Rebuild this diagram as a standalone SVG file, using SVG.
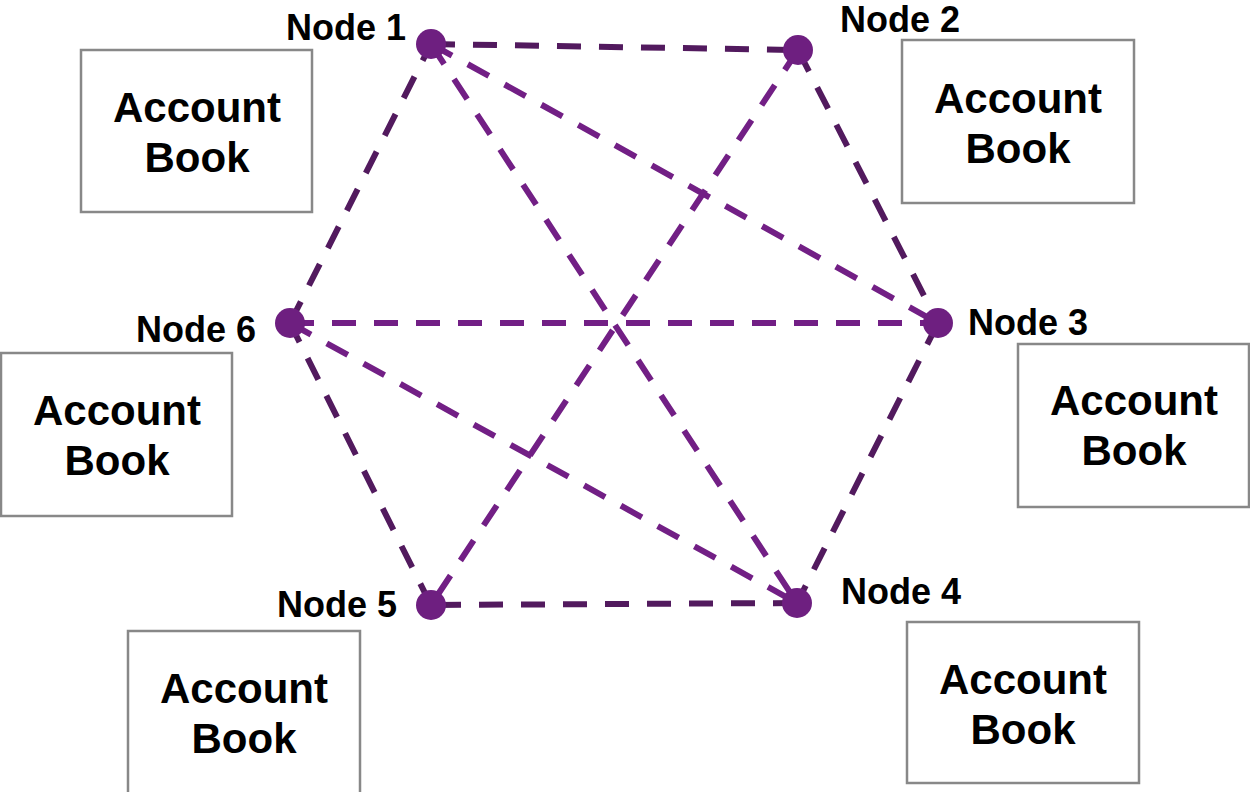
<svg xmlns="http://www.w3.org/2000/svg" width="1250" height="792" viewBox="0 0 1250 792">
<style>
.box{fill:#fff;stroke:#888;stroke-width:2.5}
.bt{font-family:"Liberation Sans",Arial,sans-serif;font-weight:bold;font-size:42px;fill:#000;text-anchor:middle}
.nl{font-family:"Liberation Sans",Arial,sans-serif;font-weight:bold;font-size:36px;fill:#000}
.e{fill:none;stroke-width:6;stroke-dasharray:24 18}
.d{stroke:#521a5e}
.l{stroke:#721f85}
.n{fill:#6e1f80}
</style>
<rect width="1250" height="792" fill="#fff"/>
<g id="books">
<g id="book1"><rect class="box" x="81" y="50" width="231" height="162"/><text class="bt" x="197" y="122">Account</text><text class="bt" x="197" y="172">Book</text></g>
<g id="book2"><rect class="box" x="902" y="40" width="232" height="163"/><text class="bt" x="1018" y="113">Account</text><text class="bt" x="1018" y="163">Book</text></g>
<g id="book3"><rect class="box" x="1018" y="344" width="231" height="163"/><text class="bt" x="1134" y="415">Account</text><text class="bt" x="1134" y="465">Book</text></g>
<g id="book4"><rect class="box" x="907" y="622" width="232" height="161"/><text class="bt" x="1023" y="694">Account</text><text class="bt" x="1023" y="744">Book</text></g>
<g id="book5"><rect class="box" x="128" y="631" width="232" height="175"/><text class="bt" x="244" y="703">Account</text><text class="bt" x="244" y="753">Book</text></g>
<g id="book6"><rect class="box" x="1" y="353" width="231" height="163"/><text class="bt" x="117" y="425">Account</text><text class="bt" x="117" y="475">Book</text></g>
</g>
<g id="connectors">
<line class="e d" x1="431" y1="44" x2="798" y2="50"/>
<line class="e d" x1="798" y1="50" x2="938" y2="323"/>
<line class="e d" x1="938" y1="323" x2="797" y2="603"/>
<line class="e d" x1="797" y1="603" x2="431" y2="605"/>
<line class="e d" x1="431" y1="605" x2="290" y2="323"/>
<line class="e d" x1="290" y1="323" x2="431" y2="44"/>
<line class="e l" x1="431" y1="44" x2="938" y2="323"/>
<line class="e l" x1="431" y1="44" x2="797" y2="603"/>
<line class="e l" x1="798" y1="50" x2="431" y2="605"/>
<line class="e l" x1="290" y1="323" x2="938" y2="323"/>
<line class="e l" x1="290" y1="323" x2="797" y2="603"/>
</g>
<g id="node1"><circle class="n" cx="431" cy="44" r="15"/><text class="nl" x="406" y="40" text-anchor="end">Node 1</text></g>
<g id="node2"><circle class="n" cx="798" cy="50" r="15"/><text class="nl" x="840" y="32">Node 2</text></g>
<g id="node3"><circle class="n" cx="938" cy="323" r="15"/><text class="nl" x="968" y="335">Node 3</text></g>
<g id="node4"><circle class="n" cx="797" cy="603" r="15"/><text class="nl" x="841" y="604">Node 4</text></g>
<g id="node5"><circle class="n" cx="431" cy="605" r="15"/><text class="nl" x="397" y="617" text-anchor="end">Node 5</text></g>
<g id="node6"><circle class="n" cx="290" cy="323" r="15"/><text class="nl" x="256" y="342" text-anchor="end">Node 6</text></g>
</svg>
